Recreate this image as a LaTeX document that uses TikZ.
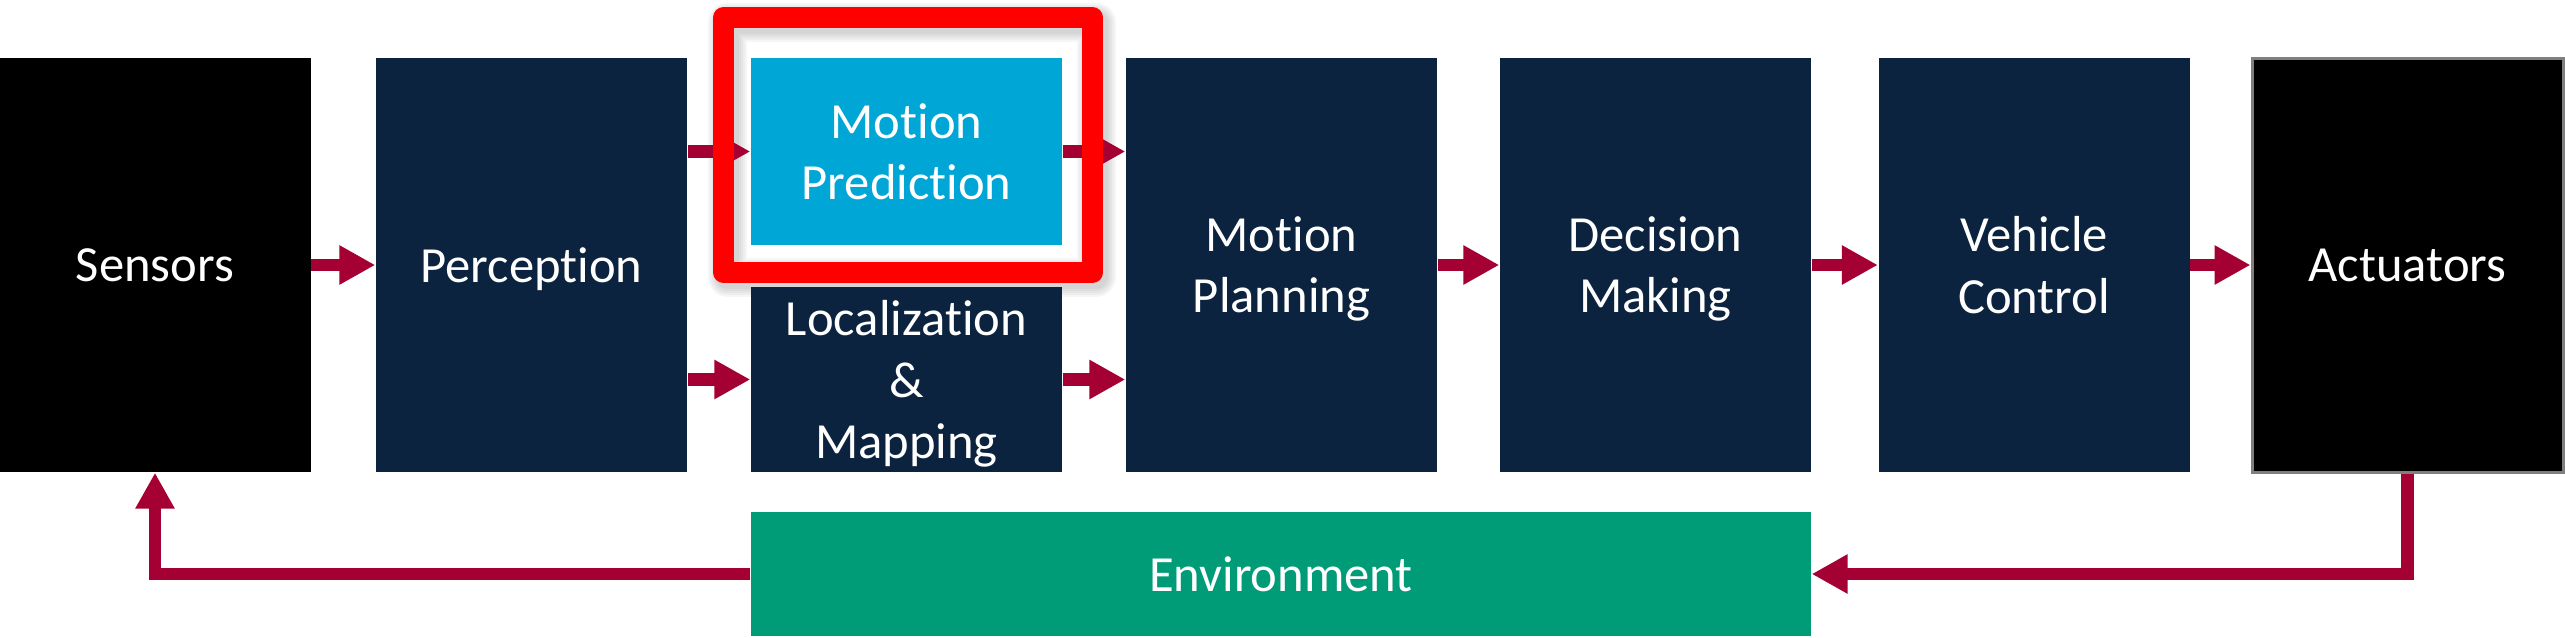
\documentclass[tikz,border=0pt]{standalone}
\usepackage{fontspec}
\setmainfont{Carlito}[Ligatures=NoCommon]
\usetikzlibrary{arrows.meta}
\definecolor{navy}{HTML}{0C2340}
\definecolor{tucyan}{HTML}{00A6D6}
\definecolor{tugreen}{HTML}{009B77}
\definecolor{rasp}{HTML}{A50034}
\definecolor{edgegray}{HTML}{7F7F7F}
\begin{document}
\begin{tikzpicture}[
  block/.style={fill=navy, text=white, inner sep=0pt, minimum width=3.11cm, minimum height=4.14cm, align=center, text depth=0pt, font=\fontsize{14.4}{17.4}\selectfont},
  flow/.style={rasp, line width=0.125cm, -{Triangle[length=0.36cm,width=0.37cm]}}]
\useasboundingbox (0,0) rectangle (25.65,6.37);
% soft shadow under the highlight
\foreach \w in {0.23,0.27,...,0.43} \draw [black, opacity=0.035, line width=\w cm, line join=round] (7.27,6.15) rectangle (10.96,3.60);
\node [block, fill=black] (sens) at (1.55,3.72) {Sensors};
\node [block] (perc) at (5.315,3.72) {Perception};
\node [block, fill=tucyan, minimum height=1.87cm] (pred) at (9.065,4.855) {Motion\\Prediction};
\node [block, minimum height=1.85cm] (loc) at (9.065,2.575) {Localization\\\&\\Mapping};
\node [block] (plan) at (12.815,3.72) {Motion\\Planning};
\node [block] (dec) at (16.555,3.72) {Decision\\Making};
\node [block] (ctrl) at (20.34,3.72) {Vehicle\\Control};
\node [block, fill=black, draw=edgegray, line width=0.03cm] (act) at (24.075,3.72) {Actuators};
\node [block, fill=tugreen, minimum width=10.6cm, minimum height=1.24cm] (env) at (12.81,0.63) {Environment};
\draw [flow] (sens) -- (perc);
\draw [flow] (perc.east |- pred.west) -- (pred.west);
\draw [flow] (perc.east |- loc.west) -- (loc.west);
\draw [flow] (pred.east) -- (plan.west |- pred.east);
\draw [flow] (loc.east) -- (plan.west |- loc.east);
\draw [flow] (plan) -- (dec);
\draw [flow] (dec) -- (ctrl);
\draw [flow] (ctrl) -- (act);
\draw [flow] (act.south) |- (env.east);
\draw [flow] (env.west) -| (sens.south);
% highlight
\draw [red, line width=0.21cm, line join=round] (7.235,6.195) rectangle (10.925,3.645);
\end{tikzpicture}
\end{document}
